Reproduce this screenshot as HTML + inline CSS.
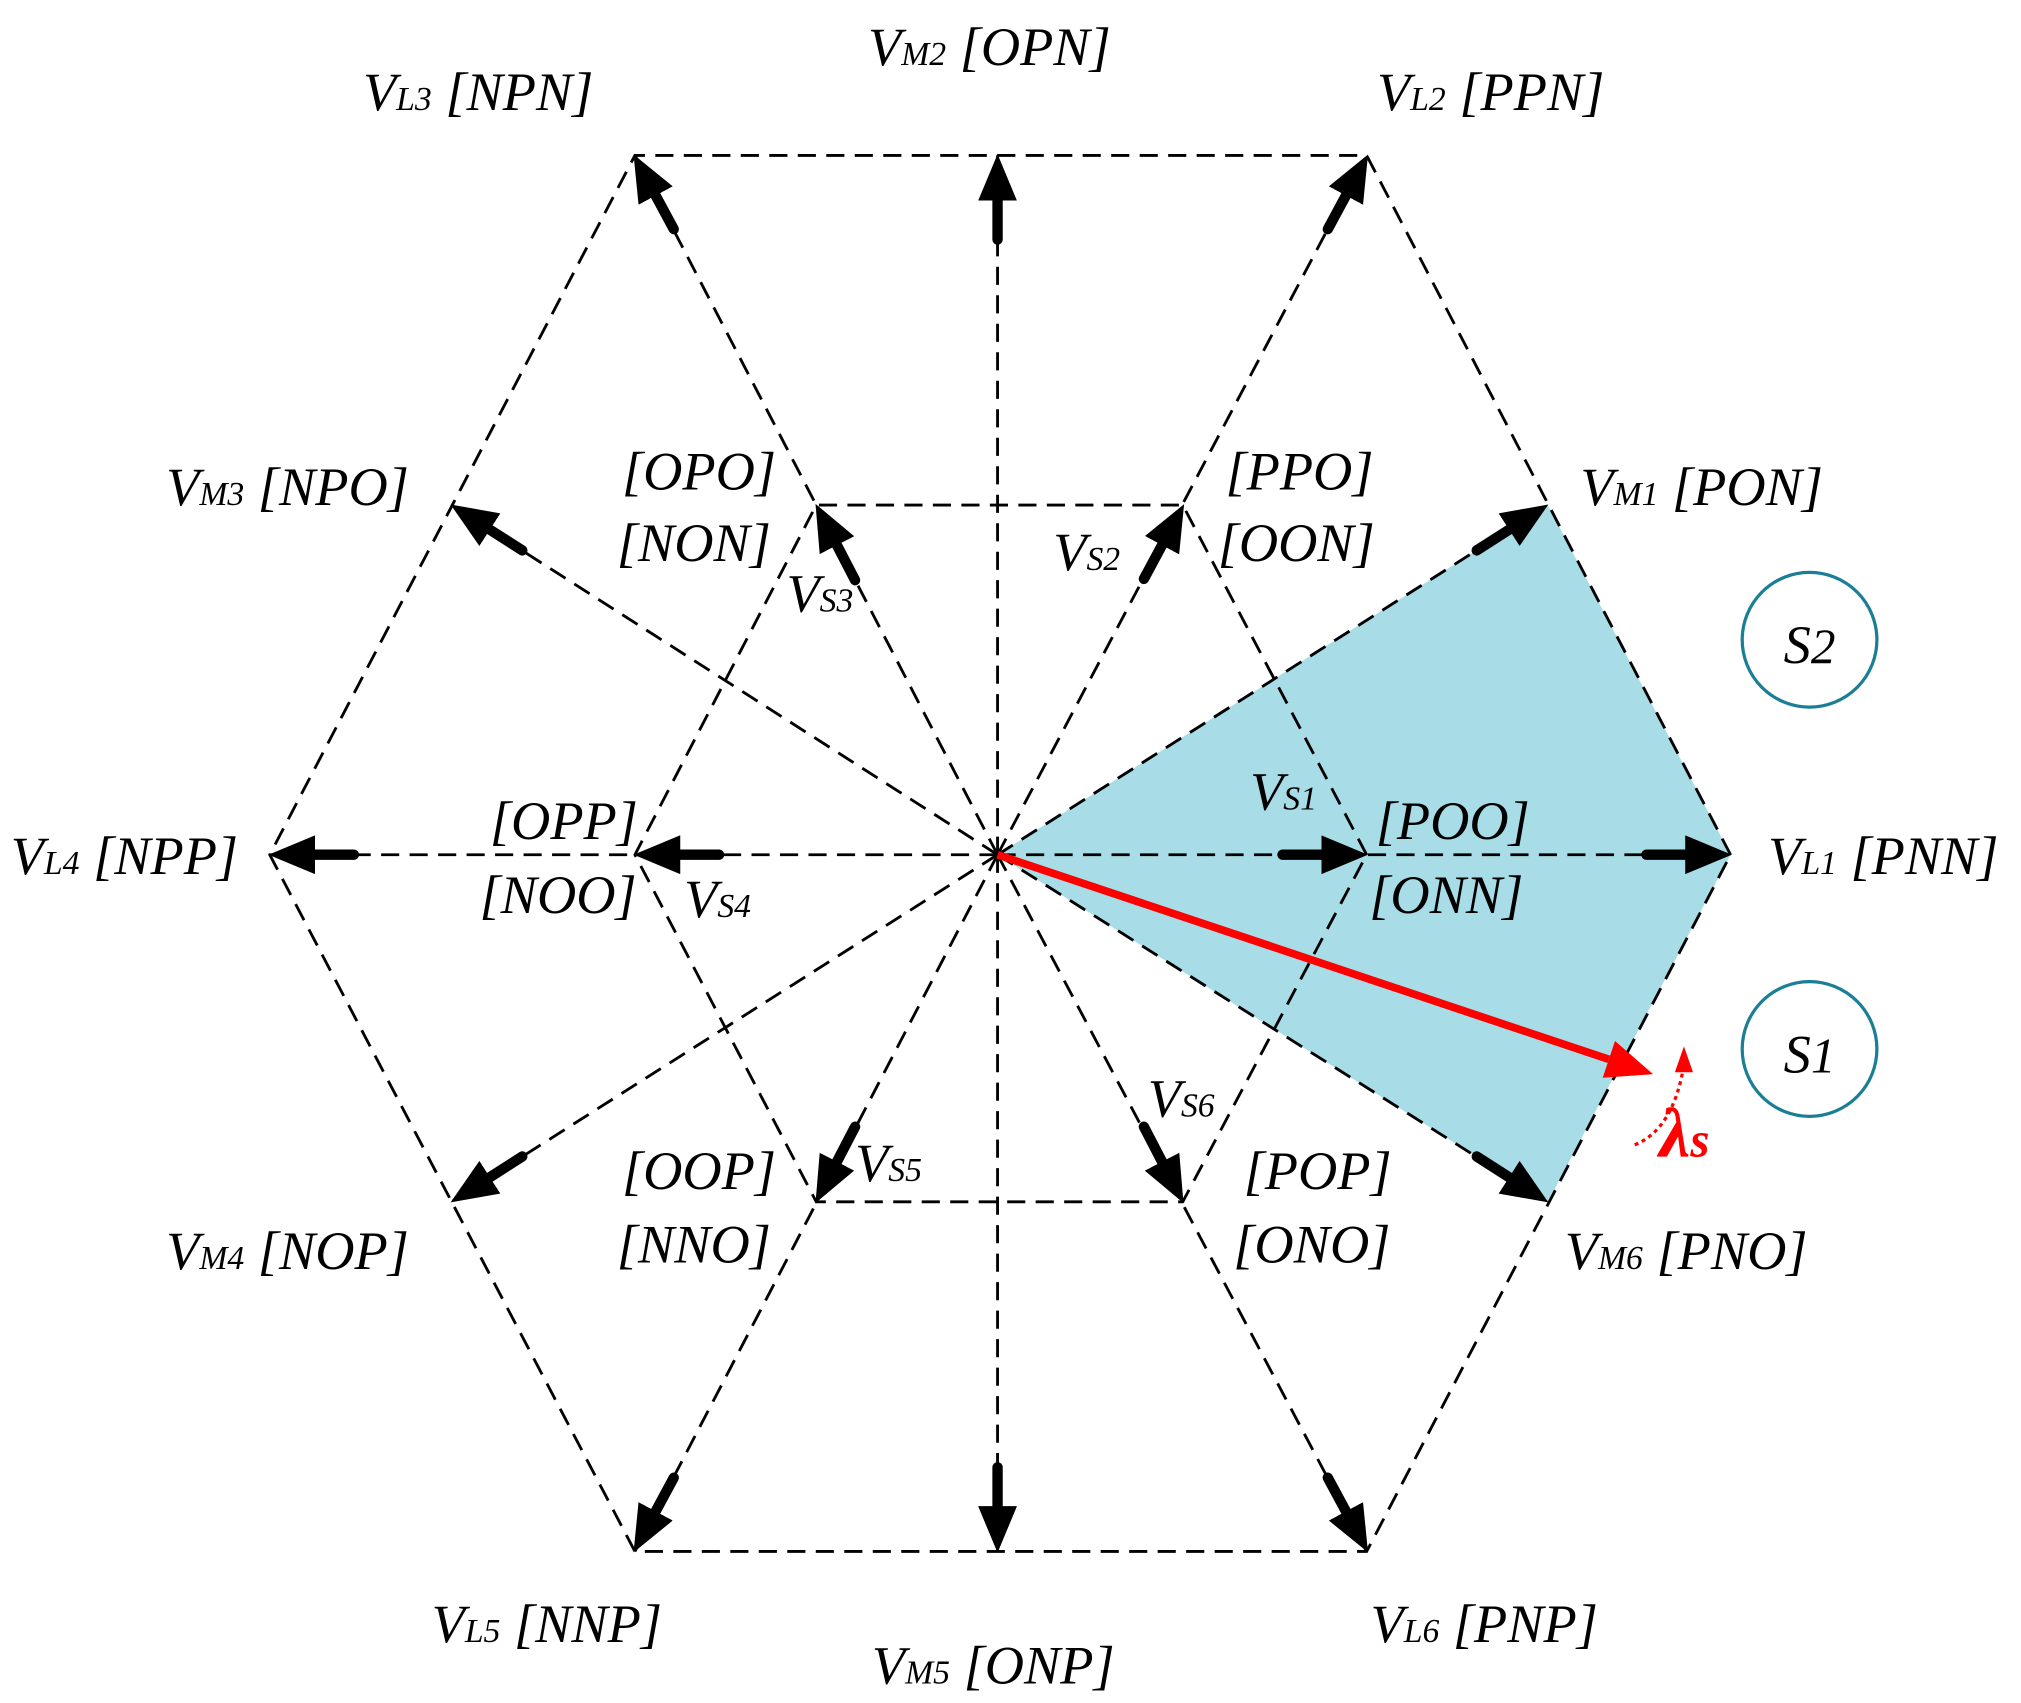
<!DOCTYPE html>
<html><head><meta charset="utf-8"><style>
html,body{margin:0;padding:0;background:#fff;}
svg{display:block;}
text{font-family:"Liberation Serif",serif;font-style:italic;fill:#000;}
</style></head><body>
<svg width="2021" height="1703" viewBox="0 0 1560 1315" xmlns="http://www.w3.org/2000/svg">
<defs>
<marker id="ah" markerUnits="userSpaceOnUse" markerWidth="40" markerHeight="34" refX="0" refY="15" orient="auto" viewBox="0 0 40 34"><path d="M0,0 L36,15 L0,30 Z" fill="#000"/></marker>
<marker id="rh" markerUnits="userSpaceOnUse" markerWidth="40" markerHeight="34" refX="0" refY="15" orient="auto" viewBox="0 0 40 34"><path d="M0,0 L36,15 L0,30 Z" fill="#f00"/></marker>
</defs>
<polygon points="770,660 1195,390 1336,660 1195,928" fill="#a8dde7"/>
<g stroke="#000" stroke-width="2.2" stroke-dasharray="14,8" fill="none">
<polygon points="1336,660 1055,120 490,120 208,660 490,1198 1055,1198"/>
<polygon points="1055,660 913,390 630,390 490,660 630,928 913,928"/>
<line x1="770" y1="660" x2="1336" y2="660"/><line x1="770" y1="660" x2="208" y2="660"/>
<line x1="770" y1="660" x2="1055" y2="120"/><line x1="770" y1="660" x2="490" y2="120"/>
<line x1="770" y1="660" x2="490" y2="1198"/><line x1="770" y1="660" x2="1055" y2="1198"/>
<line x1="770" y1="660" x2="1195" y2="390"/><line x1="770" y1="660" x2="770" y2="120"/>
<line x1="770" y1="660" x2="348" y2="390"/><line x1="770" y1="660" x2="348" y2="928"/>
<line x1="770" y1="660" x2="770" y2="1198"/><line x1="770" y1="660" x2="1195" y2="928"/>
</g>
<g stroke="#000" stroke-width="8" stroke-linecap="round" marker-end="url(#ah)">
<line x1="1271" y1="660" x2="1301" y2="660"/>
<line x1="1025" y1="177" x2="1039" y2="151"/>
<line x1="520" y1="177" x2="506" y2="151"/>
<line x1="273" y1="660" x2="243" y2="660"/>
<line x1="520" y1="1141" x2="506" y2="1167"/>
<line x1="1025" y1="1141" x2="1039" y2="1167"/>
<line x1="1140" y1="425" x2="1165" y2="409"/>
<line x1="770" y1="185" x2="770" y2="155"/>
<line x1="403" y1="425" x2="378" y2="409"/>
<line x1="403" y1="893" x2="378" y2="909"/>
<line x1="770" y1="1133" x2="770" y2="1163"/>
<line x1="1140" y1="893" x2="1165" y2="909"/>
<line x1="990" y1="660" x2="1020" y2="660"/>
<line x1="883" y1="447" x2="897" y2="421"/>
<line x1="660" y1="448" x2="646" y2="421"/>
<line x1="555" y1="660" x2="525" y2="660"/>
<line x1="660" y1="870" x2="646" y2="897"/>
<line x1="883" y1="870" x2="897" y2="897"/>
</g>
<line x1="770" y1="660" x2="1242" y2="818" stroke="#f00" stroke-width="6" marker-end="url(#rh)"/>
<path d="M1262,884 Q1292,872 1300,822" stroke="#f00" stroke-width="2.5" stroke-dasharray="3,3" fill="none"/>
<path d="M1293,828 L1300,808 L1307,828 Z" fill="#f00"/>
<text x="1281" y="893" font-size="54" font-weight="bold" style="fill:#f00">λ<tspan font-size="38">s</tspan></text>
<circle cx="1397" cy="494" r="52" fill="none" stroke="#1a7f96" stroke-width="2.5"/>
<circle cx="1397" cy="810" r="52" fill="none" stroke="#1a7f96" stroke-width="2.5"/>
<text x="1377" y="512" font-size="42">S<tspan font-size="38">2</tspan></text>
<text x="1377" y="828" font-size="42">S<tspan font-size="38">1</tspan></text>
<g font-size="42">
<text x="670" y="50">V<tspan font-size="26">M2</tspan> [OPN]</text>
<text x="280" y="85">V<tspan font-size="26">L3</tspan> [NPN]</text>
<text x="1063" y="85">V<tspan font-size="26">L2</tspan> [PPN]</text>
<text x="128" y="390">V<tspan font-size="26">M3</tspan> [NPO]</text>
<text x="1220" y="390">V<tspan font-size="26">M1</tspan> [PON]</text>
<text x="480" y="378">[OPO]</text><text x="476" y="433">[NON]</text>
<text x="946" y="378">[PPO]</text><text x="940" y="433">[OON]</text>
<text x="813" y="440">V<tspan font-size="26">S2</tspan></text>
<text x="607" y="472">V<tspan font-size="26">S3</tspan></text>
<text x="8" y="675">V<tspan font-size="26">L4</tspan> [NPP]</text>
<text x="1365" y="675">V<tspan font-size="26">L1</tspan> [PNN]</text>
<text x="378" y="648">[OPP]</text><text x="370" y="705">[NOO]</text>
<text x="528" y="708">V<tspan font-size="26">S4</tspan></text>
<text x="965" y="625">V<tspan font-size="26">S1</tspan></text>
<text x="1062" y="648">[POO]</text><text x="1057" y="705">[ONN]</text>
<text x="886" y="862">V<tspan font-size="26">S6</tspan></text>
<text x="660" y="912">V<tspan font-size="26">S5</tspan></text>
<text x="480" y="918">[OOP]</text><text x="476" y="975">[NNO]</text>
<text x="960" y="918">[POP]</text><text x="952" y="975">[ONO]</text>
<text x="128" y="980">V<tspan font-size="26">M4</tspan> [NOP]</text>
<text x="1208" y="980">V<tspan font-size="26">M6</tspan> [PNO]</text>
<text x="333" y="1268">V<tspan font-size="26">L5</tspan> [NNP]</text>
<text x="1058" y="1268">V<tspan font-size="26">L6</tspan> [PNP]</text>
<text x="673" y="1300">V<tspan font-size="26">M5</tspan> [ONP]</text>
</g>
</svg>
</body></html>
